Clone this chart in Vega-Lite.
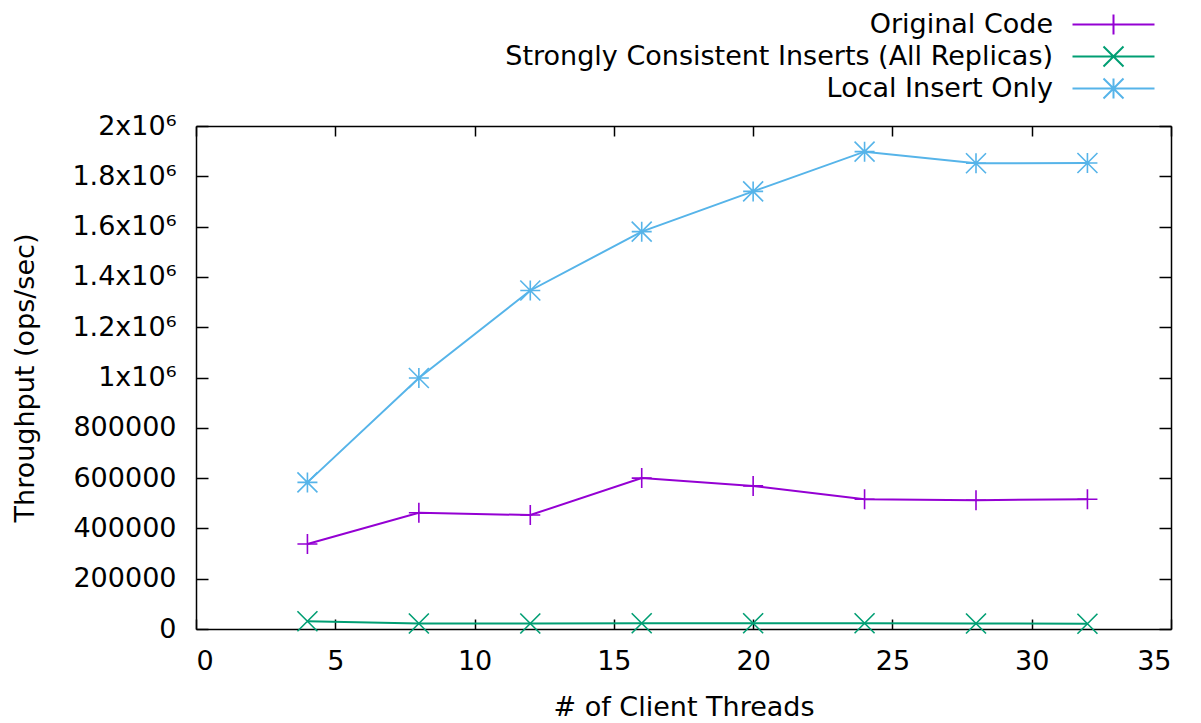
{
  "$schema": "https://vega.github.io/schema/vega-lite/v6.json",
  "autosize": {"type": "none"},
  "width": 975,
  "height": 503,
  "padding": {"left": 196, "top": 126, "right": 30, "bottom": 94},
  "background": "white",
  "config": {
    "view": {"stroke": null},
    "font": "DejaVu Sans",
    "axis": {
      "labelFont": "DejaVu Sans",
      "labelFontSize": 27,
      "labelColor": "black",
      "titleFont": "DejaVu Sans",
      "titleFontSize": 27,
      "titleFontWeight": "normal",
      "titleColor": "black",
      "domainColor": "black",
      "domainWidth": 1.5,
      "tickColor": "black",
      "tickWidth": 1.5,
      "grid": false
    },
    "legend": {
      "orient": "none",
      "legendX": 904,
      "legendY": -115,
      "title": null,
      "direction": "vertical",
      "padding": 0,
      "rowPadding": 3,
      "labelFont": "DejaVu Sans",
      "labelFontSize": 27,
      "labelColor": "black",
      "labelAlign": "right",
      "labelOffset": -74,
      "labelLimit": 0,
      "symbolStrokeWidth": 2,
      "symbolSize": 100
    }
  },
  "data": {
    "values": [
      {"threads": 4, "series": "Original Code", "throughput": 338000},
      {"threads": 8, "series": "Original Code", "throughput": 462000},
      {"threads": 12, "series": "Original Code", "throughput": 453000},
      {"threads": 16, "series": "Original Code", "throughput": 600000},
      {"threads": 20, "series": "Original Code", "throughput": 569000},
      {"threads": 24, "series": "Original Code", "throughput": 516000},
      {"threads": 28, "series": "Original Code", "throughput": 512000},
      {"threads": 32, "series": "Original Code", "throughput": 516000},
      {"threads": 4, "series": "Strongly Consistent Inserts (All Replicas)", "throughput": 31000},
      {"threads": 8, "series": "Strongly Consistent Inserts (All Replicas)", "throughput": 22000},
      {"threads": 12, "series": "Strongly Consistent Inserts (All Replicas)", "throughput": 22000},
      {"threads": 16, "series": "Strongly Consistent Inserts (All Replicas)", "throughput": 23000},
      {"threads": 20, "series": "Strongly Consistent Inserts (All Replicas)", "throughput": 23000},
      {"threads": 24, "series": "Strongly Consistent Inserts (All Replicas)", "throughput": 23000},
      {"threads": 28, "series": "Strongly Consistent Inserts (All Replicas)", "throughput": 22000},
      {"threads": 32, "series": "Strongly Consistent Inserts (All Replicas)", "throughput": 21000},
      {"threads": 4, "series": "Local Insert Only", "throughput": 583000},
      {"threads": 8, "series": "Local Insert Only", "throughput": 998000},
      {"threads": 12, "series": "Local Insert Only", "throughput": 1346000},
      {"threads": 16, "series": "Local Insert Only", "throughput": 1580000},
      {"threads": 20, "series": "Local Insert Only", "throughput": 1740000},
      {"threads": 24, "series": "Local Insert Only", "throughput": 1898000},
      {"threads": 28, "series": "Local Insert Only", "throughput": 1852000},
      {"threads": 32, "series": "Local Insert Only", "throughput": 1853000}
    ]
  },
  "resolve": {"axis": {"x": "independent", "y": "independent"}},
  "layer": [
    {
      "mark": {"type": "line"},
      "encoding": {
        "x": {
          "field": "threads", "type": "quantitative",
          "scale": {"domain": [0, 35], "nice": false, "zero": false},
          "axis": {"orient": "bottom", "values": [0, 5, 10, 15, 20, 25, 30, 35], "tickSize": -10, "labelPadding": 29, "title": "# of Client Threads", "titlePadding": 20}
        },
        "y": {
          "field": "throughput", "type": "quantitative",
          "scale": {"domain": [0, 2000000], "nice": false},
          "axis": {
            "orient": "left",
            "values": [0, 200000, 400000, 600000, 800000, 1000000, 1200000, 1400000, 1600000, 1800000, 2000000],
            "tickSize": -12, "labelPadding": 32,
            "labelExpr": "datum.value >= 1000000 ? format(datum.value / 1000000, '') + 'x10⁶' : format(datum.value, 'd')",
            "title": "Throughput (ops/sec)", "titlePadding": 32
          }
        },
        "color": {
          "field": "series", "type": "nominal",
          "scale": {
            "domain": ["Original Code", "Strongly Consistent Inserts (All Replicas)", "Local Insert Only"],
            "range": ["#9400d3", "#009e73", "#56b4e9"]
          },
          "legend": {
            "encode": {
              "symbols": {
                "update": {
                  "shape": {"signal": "datum.value === 'Original Code' ? 'M-4.1,0L4.1,0M0,-1L0,1' : datum.value === 'Local Insert Only' ? 'M-4.1,0L4.1,0M0,-1L0,1M-1,-1L1,1M-1,1L1,-1' : 'M-4.1,0L4.1,0M-1,-1L1,1M-1,1L1,-1'"},
                  "size": {"value": 400}
                }
              }
            }
          }
        },
        "strokeWidth": {
          "field": "series", "type": "nominal",
          "scale": {
            "domain": ["Original Code", "Strongly Consistent Inserts (All Replicas)", "Local Insert Only"],
            "range": [2, 2, 1.5]
          },
          "legend": null
        }
      }
    },
    {
      "transform": [{"filter": "datum.series === 'Original Code'"}],
      "mark": {"type": "point", "shape": "M-1,0L1,0M0,-1L0,1", "filled": false, "opacity": 1, "strokeWidth": 1.6, "size": 400},
      "encoding": {
        "x": {
          "field": "threads", "type": "quantitative",
          "axis": {"orient": "top", "values": [0, 5, 10, 15, 20, 25, 30, 35], "tickSize": -10, "labels": false, "title": null}
        },
        "y": {
          "field": "throughput", "type": "quantitative",
          "axis": {"orient": "right", "values": [0, 200000, 400000, 600000, 800000, 1000000, 1200000, 1400000, 1600000, 1800000, 2000000], "tickSize": -12, "labels": false, "title": null}
        },
        "color": {
          "field": "series", "type": "nominal",
          "legend": {
            "encode": {
              "symbols": {
                "update": {
                  "shape": {"signal": "datum.value === 'Original Code' ? 'M-4.1,0L4.1,0M0,-1L0,1' : datum.value === 'Local Insert Only' ? 'M-4.1,0L4.1,0M0,-1L0,1M-1,-1L1,1M-1,1L1,-1' : 'M-4.1,0L4.1,0M-1,-1L1,1M-1,1L1,-1'"},
                  "size": {"value": 400}
                }
              }
            }
          }
        }
      }
    },
    {
      "transform": [{"filter": "datum.series === 'Strongly Consistent Inserts (All Replicas)'"}],
      "mark": {"type": "point", "shape": "M-1,-1L1,1M-1,1L1,-1", "filled": false, "opacity": 1, "strokeWidth": 1.6, "size": 400},
      "encoding": {
        "x": {"field": "threads", "type": "quantitative", "axis": null},
        "y": {"field": "throughput", "type": "quantitative", "axis": null},
        "color": {
          "field": "series", "type": "nominal",
          "legend": {
            "encode": {
              "symbols": {
                "update": {
                  "shape": {"signal": "datum.value === 'Original Code' ? 'M-4.1,0L4.1,0M0,-1L0,1' : datum.value === 'Local Insert Only' ? 'M-4.1,0L4.1,0M0,-1L0,1M-1,-1L1,1M-1,1L1,-1' : 'M-4.1,0L4.1,0M-1,-1L1,1M-1,1L1,-1'"},
                  "size": {"value": 400}
                }
              }
            }
          }
        }
      }
    },
    {
      "transform": [{"filter": "datum.series === 'Local Insert Only'"}],
      "mark": {"type": "point", "shape": "M-1,0L1,0M0,-1L0,1M-1,-1L1,1M-1,1L1,-1", "filled": false, "opacity": 1, "strokeWidth": 1.6, "size": 400},
      "encoding": {
        "x": {"field": "threads", "type": "quantitative", "axis": null},
        "y": {"field": "throughput", "type": "quantitative", "axis": null},
        "color": {
          "field": "series", "type": "nominal",
          "legend": {
            "encode": {
              "symbols": {
                "update": {
                  "shape": {"signal": "datum.value === 'Original Code' ? 'M-4.1,0L4.1,0M0,-1L0,1' : datum.value === 'Local Insert Only' ? 'M-4.1,0L4.1,0M0,-1L0,1M-1,-1L1,1M-1,1L1,-1' : 'M-4.1,0L4.1,0M-1,-1L1,1M-1,1L1,-1'"},
                  "size": {"value": 400}
                }
              }
            }
          }
        }
      }
    }
  ]
}
